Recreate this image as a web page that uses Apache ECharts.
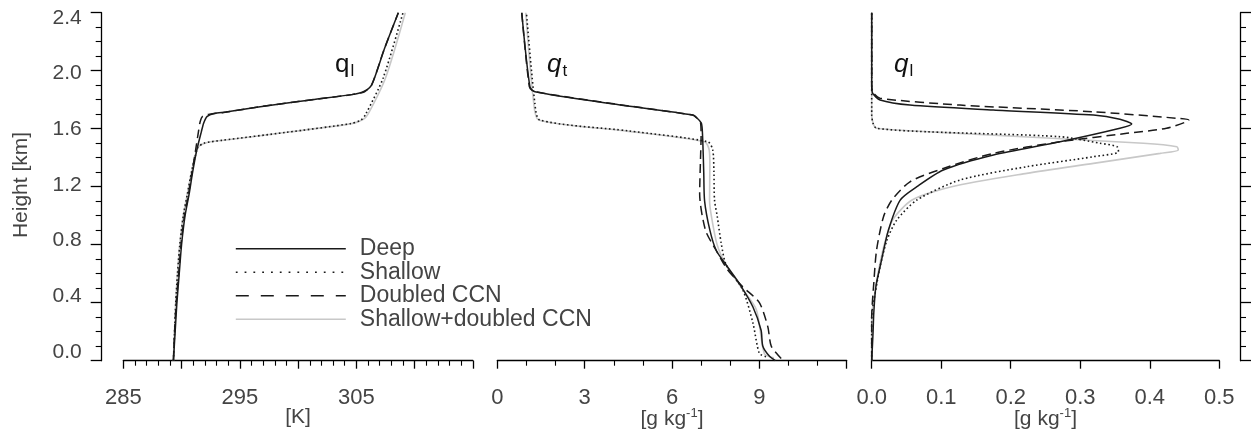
<!DOCTYPE html>
<html><head><meta charset="utf-8">
<script src="https://cdn.jsdelivr.net/npm/echarts@6/dist/echarts.min.js"></script>
<style>html,body{margin:0;padding:0;background:#fff}#c{width:1253px;height:434px}</style>
</head><body><div id="c"></div>
<script>
// ---- data: [value, height km] ----
const seriesNames = ['Deep', 'Shallow', 'Doubled CCN', 'Shallow+doubled CCN'];
const thetaLabels = ['285', '295', '305'];
const qtLabels = ['0', '3', '6', '9'];
const qlLabels = ['0.0', '0.1', '0.2', '0.3', '0.4', '0.5'];
const heightLabels = ['0.0', '0.4', '0.8', '1.2', '1.6', '2.0', '2.4'];

const thetaDeep = [[289.3,0],[289.45,0.2],[289.6,0.4],[289.8,0.6],[290.0,0.8],[290.3,1.0],[290.65,1.15],[290.95,1.3],[291.3,1.45],[291.7,1.58],[291.9,1.64],[292.2,1.685],[292.8,1.705],[293.8,1.715],[296.6,1.75],[301.2,1.8],[304.6,1.835],[305.6,1.855],[306.3,1.9],[307.4,2.15],[308.6,2.4]];
const thetaShallow = [[289.3,0],[289.4,0.2],[289.5,0.4],[289.65,0.6],[289.85,0.8],[290.15,1.0],[290.5,1.15],[290.85,1.3],[291.2,1.42],[291.4,1.47],[291.9,1.5],[293.5,1.52],[299.0,1.575],[304.5,1.635],[305.4,1.66],[305.8,1.7],[307.3,1.95],[309.0,2.4]];
const thetaDoubled = [[289.3,0],[289.4,0.2],[289.55,0.4],[289.75,0.6],[289.95,0.8],[290.25,1.0],[290.6,1.15],[290.9,1.3],[291.2,1.45],[291.45,1.58],[291.6,1.65],[291.8,1.685],[292.4,1.7],[293.6,1.712],[296.6,1.75],[301.2,1.8],[304.6,1.835],[305.7,1.855],[306.3,1.9],[307.4,2.15],[308.6,2.4]];
const thetaShallowDoubled = [[289.3,0],[289.4,0.2],[289.5,0.4],[289.65,0.6],[289.85,0.8],[290.15,1.0],[290.5,1.15],[290.85,1.3],[291.3,1.45],[291.5,1.48],[292.2,1.505],[293.8,1.522],[299.0,1.575],[304.6,1.635],[305.6,1.665],[306.0,1.7],[307.5,1.95],[309.2,2.4]];

const qtDeep = [[9.55,0.0],[9.35,0.03],[9.12,0.1],[9.06,0.21],[8.78,0.37],[8.32,0.53],[7.86,0.66],[7.52,0.76],[7.3,0.9],[7.12,1.1],[7.09,1.3],[7.05,1.55],[7.01,1.637],[6.85,1.675],[6.72,1.694],[4.0,1.77],[1.29,1.855],[1.12,1.89],[0.84,2.4]];
const qtShallow = [[9.23,0.028],[9.0,0.05],[8.78,0.26],[8.43,0.49],[7.86,0.66],[7.69,0.81],[7.55,1.0],[7.46,1.108],[7.44,1.3],[7.4,1.453],[7.23,1.51],[4.5,1.585],[1.46,1.66],[1.29,1.775],[1.0,2.4]];
const qtDoubled = [[9.75,0.015],[9.41,0.1],[9.29,0.235],[9.0,0.4],[8.43,0.51],[7.9,0.63],[7.52,0.76],[7.15,0.9],[6.95,1.15],[6.98,1.4],[7.0,1.55],[6.98,1.64],[6.82,1.68],[6.7,1.695],[4.0,1.772],[1.25,1.857],[1.1,1.89],[0.84,2.4]];
const qtShallowDoubled = [[9.5,0.02],[9.17,0.05],[8.9,0.35],[8.4,0.5],[7.86,0.66],[7.55,0.8],[7.35,1.0],[7.29,1.108],[7.3,1.35],[7.28,1.45],[7.12,1.51],[4.4,1.585],[1.42,1.66],[1.25,1.78],[0.98,2.4]];

const qlDeep = [[0,0],[0.002,0.2],[0.003,0.33],[0.006,0.51],[0.014,0.69],[0.024,0.9],[0.041,1.108],[0.065,1.2],[0.103,1.315],[0.175,1.419],[0.271,1.51],[0.357,1.603],[0.374,1.632],[0.357,1.665],[0.319,1.694],[0.175,1.729],[0.055,1.763],[0.012,1.798],[0.0015,1.844],[0,1.9],[0,2.4]];
const qlShallow = [[0,0],[0,0.3],[0.005,0.465],[0.012,0.648],[0.022,0.832],[0.036,0.97],[0.065,1.108],[0.127,1.246],[0.223,1.338],[0.319,1.407],[0.355,1.441],[0.353,1.476],[0.328,1.5],[0.271,1.545],[0.079,1.579],[0.007,1.603],[0.002,1.637],[0,1.7],[0,2.4]];
const qlDoubled = [[0,0],[0,0.3],[0.003,0.534],[0.007,0.763],[0.017,0.993],[0.029,1.108],[0.055,1.234],[0.103,1.326],[0.175,1.43],[0.271,1.51],[0.367,1.568],[0.424,1.603],[0.456,1.66],[0.439,1.672],[0.319,1.717],[0.127,1.763],[0.012,1.81],[0.002,1.85],[0,1.9],[0,2.4]];
const qlShallowDoubled = [[0,0],[0,0.3],[0.004,0.45],[0.009,0.6],[0.018,0.8],[0.03,0.97],[0.058,1.108],[0.115,1.2],[0.223,1.292],[0.319,1.361],[0.415,1.43],[0.441,1.453],[0.439,1.476],[0.391,1.5],[0.127,1.568],[0.007,1.603],[0.002,1.637],[0,1.7],[0,2.4]];

// ---- styles ----
const FONT = 'Liberation Sans';
const TXT = '#444';
const styles = {
  'Deep': {color: '#1a1a1a', width: 1.5, type: 'solid'},
  'Shallow': {color: '#1a1a1a', width: 1.6, type: [1.6, 2.6]},
  'Doubled CCN': {color: '#1a1a1a', width: 1.5, type: [9, 5]},
  'Shallow+doubled CCN': {color: '#c8c8c8', width: 1.6, type: 'solid'}
};
const legendDash = {
  'Deep': 'solid', 'Shallow': [1.8, 7], 'Doubled CCN': [13, 12], 'Shallow+doubled CCN': 'solid'
};
const panels = [
  [thetaDeep, thetaShallow, thetaDoubled, thetaShallowDoubled],
  [qtDeep, qtShallow, qtDoubled, qtShallowDoubled],
  [qlDeep, qlShallow, qlDoubled, qlShallowDoubled]
];

const grids = [
  {left: 123.3, top: 12.7, width: 349.6, height: 348, outerBoundsMode: 'none', containLabel: false},
  {left: 497.3, top: 12.7, width: 349.4, height: 348, outerBoundsMode: 'none', containLabel: false},
  {left: 871.7, top: 12.7, width: 347.6, height: 348, outerBoundsMode: 'none', containLabel: false},
  // label-only grid: the reference prints the height labels on a slightly compressed scale
  {left: 123.3, top: 18, width: 349.6, height: 334, outerBoundsMode: 'none', containLabel: false}
];

const unitName = '[g kg{sup|-1}]';
const nameStyle = {
  fontFamily: FONT, fontSize: 21, color: TXT,
  rich: {sup: {fontFamily: FONT, fontSize: 13, color: TXT, verticalAlign: 'top', padding: [0, 0, 12, 0]}}
};

function xAxis(gi, min, max, interval, minorSplit, labels, name, fmt) {
  return {
    type: 'value', gridIndex: gi, min: min, max: max, interval: interval,
    position: 'bottom',
    name: name, nameLocation: 'middle', nameGap: 46, nameMoveOverlap: false, nameTextStyle: nameStyle,
    axisLine: {show: true, onZero: false, lineStyle: {color: '#000', width: 1.3}},
    axisTick: {show: true, length: 8, lineStyle: {color: '#000', width: 1.3}},
    minorTick: {show: minorSplit > 1, splitNumber: minorSplit, length: 5, lineStyle: {color: '#000', width: 1.1}},
    splitLine: {show: false},
    axisLabel: {
      margin: 26, fontFamily: FONT, fontSize: 22, color: TXT,
      showMinLabel: true, showMaxLabel: true, hideOverlap: false,
      formatter: function (v) { const s = fmt(v); return labels.indexOf(s) >= 0 ? s : ''; }
    }
  };
}

function yAxis(gi, show, pos, offset) {
  return {
    type: 'value', gridIndex: gi, min: 0, max: 2.4, interval: 0.4, show: show,
    position: pos, offset: offset,
    axisLine: {show: true, onZero: false, lineStyle: {color: '#000', width: 1.3}},
    axisTick: {show: true, length: 11, lineStyle: {color: '#000', width: 1.3}},
    minorTick: {show: true, splitNumber: 4, length: 6, lineStyle: {color: '#000', width: 1.1}},
    splitLine: {show: false},
    axisLabel: {show: false}
  };
}

const series = [];
panels.forEach(function (sets, gi) {
  sets.forEach(function (d, si) {
    const nm = seriesNames[si];
    const st = styles[nm];
    series.push({
      name: nm, type: 'line', xAxisIndex: gi, yAxisIndex: gi, data: d,
      showSymbol: false, symbol: 'none', smooth: 0.25, clip: false,
      z: nm === 'Shallow+doubled CCN' ? 1 : 3,
      lineStyle: {color: st.color, width: st.width, type: st.type},
      itemStyle: {color: st.color}
    });
  });
});

const option = {
  animation: false,
  backgroundColor: '#fff',
  grid: grids,
  xAxis: [
    xAxis(0, 285, 315, 5, 5, thetaLabels, '[K]', function (v) { return String(v); }),
    xAxis(1, 0, 12, 3, 3, qtLabels, unitName, function (v) { return String(v); }),
    xAxis(2, 0, 0.5, 0.1, 0, qlLabels, unitName, function (v) { return v.toFixed(1); }),
    {type: 'value', gridIndex: 3, min: 0, max: 1, show: false}
  ],
  yAxis: [
    yAxis(0, true, 'left', 21.6),
    yAxis(1, false, 'left', 0),
    yAxis(2, true, 'right', 20.7),
    {
      type: 'value', gridIndex: 3, min: 0, max: 2.4, interval: 0.4, position: 'left', offset: 21.6,
      name: 'Height [km]', nameLocation: 'middle', nameGap: 70, nameMoveOverlap: false,
      nameTextStyle: {fontFamily: FONT, fontSize: 21, color: TXT},
      axisLine: {show: false, onZero: false}, axisTick: {show: false}, splitLine: {show: false},
      axisLabel: {
        margin: 20, fontFamily: FONT, fontSize: 21, color: TXT,
        formatter: function (v) { const s = v.toFixed(1); return heightLabels.indexOf(s) >= 0 ? s : ''; }
      }
    }
  ],
  legend: {
    show: true,
    orient: 'vertical', left: 230, top: 232, itemWidth: 110, itemHeight: 14, itemGap: 0,
    selectedMode: false,
    itemStyle: {opacity: 0},
    textStyle: {fontFamily: FONT, fontSize: 23, color: TXT, lineHeight: 23.5, padding: [0, 0, 0, 9]},
    data: seriesNames.map(function (n) {
      return {name: n, itemStyle: {opacity: 0}, lineStyle: {color: styles[n].color, width: 1.6, type: legendDash[n]}};
    })
  },
  graphic: [
    {type: 'text', left: 335, top: 52, style: {text: '{q|q}{s|l}', rich: {q: {fontFamily: FONT, fontSize: 26, fill: '#111'}, s: {fontFamily: FONT, fontSize: 17, fill: '#111', padding: [12, 0, 0, 1]}}}},
    {type: 'text', left: 547, top: 52, style: {text: '{q|q}{s|t}', rich: {q: {fontFamily: FONT, fontSize: 26, fontStyle: 'italic', fill: '#111'}, s: {fontFamily: FONT, fontSize: 17, fill: '#111', padding: [12, 0, 0, 1]}}}},
    {type: 'text', left: 894, top: 52, style: {text: '{q|q}{s|l}', rich: {q: {fontFamily: FONT, fontSize: 26, fontStyle: 'italic', fill: '#111'}, s: {fontFamily: FONT, fontSize: 17, fill: '#111', padding: [12, 0, 0, 1]}}}}
  ],
  series: series
};

const chart = echarts.init(document.getElementById('c'), null, {renderer: 'canvas'});
chart.setOption(option);
</script>
</body></html>
